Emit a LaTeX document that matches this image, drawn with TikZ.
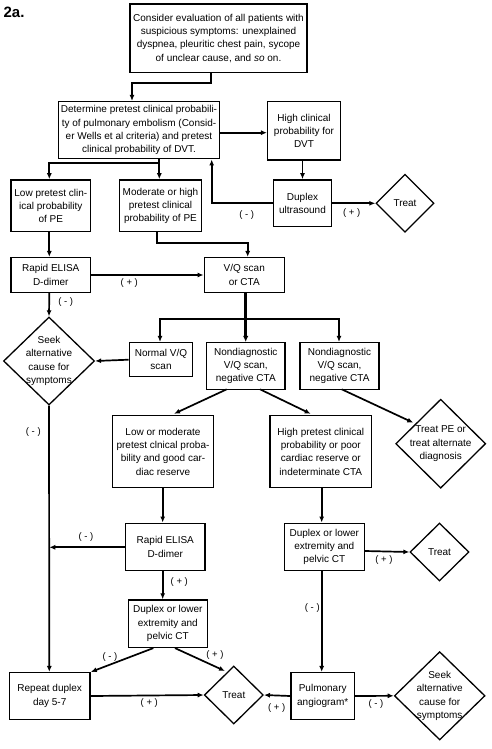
\documentclass[tikz,border=0pt]{standalone}
\usepackage{fontspec}
\setmainfont{Liberation Sans}
\usetikzlibrary{arrows.meta,shapes.geometric}
\newcommand\fs{\fontsize{10}{13.3}\selectfont}
\newcommand\lfs{\fontsize{9.5}{11}\selectfont}
\begin{document}
\begin{tikzpicture}[x=1pt,y=-1pt,
  pbox/.style={draw, line width=1.5pt, inner sep=1pt, align=center, font=\fs},
  pdiam/.style={draw, shape=diamond, line width=1.3pt, inner sep=0pt},
  dtext/.style={align=center, font=\fs, inner sep=0pt},
  arr/.style={line width=1.7pt, -{Latex[length=6pt,width=5pt]}},
  plain/.style={line width=1.7pt},
  lab/.style={font=\lfs, inner sep=0pt}]
\useasboundingbox (0,0) rectangle (492,749);
\fill[white] (0,0) rectangle (492,749);

\node[font=\fontsize{15}{16}\selectfont\bfseries, inner sep=0pt] (title) at (14,12) {2a.};

% boxes
\node[pbox, minimum width=177, minimum height=68.7] (top) at (218.5,38.3)
  {Consider evaluation of all patients with\\suspicious symptoms: unexplained\\dyspnea, pleuritic chest pain, sycope\\of unclear cause, and \textit{so} on.};
\node[pbox, minimum width=160.6, minimum height=57] (det) at (139,130.2)
  {Determine pretest clinical probabili-\\ty of pulmonary embolism (Consid-\\er Wells et al criteria) and pretest\\clinical probability of DVT.};
\node[pbox, minimum width=72.6, minimum height=58.3] (high) at (304,130.8)
  {High clinical\\probability for\\DVT};
\node[pbox, minimum width=58.4, minimum height=46.7] (dus) at (302.5,203.3)
  {Duplex\\ultrasound};
\node[pdiam, minimum width=58, minimum height=58] (treat1) at (405,203.3) {};
\node[dtext] (treat1t) at (treat1) {Treat};
\node[pbox, minimum width=79.7, minimum height=51.7] (low) at (50.8,205.8)
  {Low pretest clin-\\ical probability\\of PE};
\node[pbox, minimum width=82.4, minimum height=51.7] (mod) at (160.5,205.8)
  {Moderate or high\\pretest clinical\\probability of PE};
\node[pbox, minimum width=79.7, minimum height=34.6] (elisa1) at (50.8,275)
  {Rapid ELISA\\D-dimer};
\node[pbox, minimum width=80, minimum height=34.6] (vq) at (244.3,275)
  {V/Q scan\\or CTA};
\node[pdiam, minimum width=91, minimum height=88] (seek1) at (49,361) {};
\node[dtext] (seek1t) at (seek1) {Seek\\alternative\\cause for\\symptoms};
\node[pbox, minimum width=63.4, minimum height=34] (normal) at (161,359.7)
  {Normal V/Q\\scan};
\node[pbox, minimum width=78.3, minimum height=46.6] (nd1) at (245.8,366)
  {Nondiagnostic\\V/Q scan,\\negative CTA};
\node[pbox, minimum width=79, minimum height=46.6] (nd2) at (339.5,366)
  {Nondiagnostic\\V/Q scan,\\negative CTA};
\node[pbox, minimum width=100.6, minimum height=71.6] (lowmod) at (163,451.5)
  {Low or moderate\\pretest clnical proba-\\bility and good car-\\diac reserve};
\node[pbox, minimum width=101.7, minimum height=71.6] (highpre) at (320.8,451.5)
  {High pretest clinical\\probability or poor\\cardiac reserve or\\indeterminate CTA};
\node[pdiam, minimum width=90, minimum height=89] (treatpe) at (440.7,443.7) {};
\node[dtext] (treatpet) at (treatpe) {Treat PE or\\treat alternate\\diagnosis};
\node[pbox, minimum width=79.3, minimum height=47.4] (elisa2) at (165.3,547)
  {Rapid ELISA\\D-dimer};
\node[pbox, minimum width=80, minimum height=47.4] (dup2) at (324.3,547)
  {Duplex or lower\\extremity and\\pelvic CT};
\node[pdiam, minimum width=59, minimum height=58] (treat2) at (439.5,552) {};
\node[dtext] (treat2t) at (treat2) {Treat};
\node[pbox, minimum width=79, minimum height=47.3] (dup3) at (167.8,623.7)
  {Duplex or lower\\extremity and\\pelvic CT};
\node[pbox, minimum width=80.7, minimum height=46.6] (rep) at (49.7,696)
  {Repeat duplex\\day 5-7};
\node[pdiam, minimum width=59, minimum height=58] (treat3) at (233.8,695) {};
\node[dtext] (treat3t) at (treat3) {Treat};
\node[pbox, minimum width=63.3, minimum height=46.6] (pulm) at (322.7,696)
  {Pulmonary\\angiogram*};
\node[pdiam, minimum width=90.7, minimum height=88.3] (seek2) at (439.7,695.8) {};
\node[dtext] (seek2t) at (seek2) {Seek\\alternative\\cause for\\symptoms};

% helper coordinates
\coordinate (c1) at (211,83);
\coordinate (c2) at (132,83);
\coordinate (lx) at (49.3,0);
\coordinate (j1) at (159.3,163.3);
\coordinate (j2) at (156.7,243.3);
\coordinate (j3) at (247.7,243.3);
\coordinate (j4) at (245.7,319.3);
\coordinate (j5) at (160,319.3);
\coordinate (j6) at (339,319.3);

% connectors
\draw[arr] (top.south -| c1) |- (c2) -- (det.north -| c2);
\draw[arr] (det.east |- 0,132.7) -- (high.west |- 0,132.7);
\draw[arr] (high.south -| dus) -- (dus.north);
\draw[arr] (dus.west) -| (det.south -| 211.7,0);
\node[lab] (lm1) at (246.7,215) {( - )};
\draw[arr] (dus.east) -- (treat1.west);
\node[lab] (lp1) at (351.7,213) {( + )};
\draw[arr] (det.south -| j1) -- (mod.north -| j1);
\draw[arr] (j1) -| (low.north -| lx);
\draw[arr] (low.south -| lx) -- (elisa1.north -| lx);
\draw[arr] (mod.south -| j2) -- (j2) -- (j3) -- (vq.north -| j3);
\draw[arr] (elisa1.east) -- (vq.west);
\node[lab] (lp2) at (129.3,282.7) {( + )};
\draw[arr] (elisa1.south -| lx) -- (seek1.north);
\node[lab] (lm2) at (65.7,301.7) {( - )};
\draw[line width=2.6pt, -{Latex[length=6pt,width=5.5pt]}] (vq.south -| j4) -- (nd1.north -| j4);
\draw[arr] (j4) -- (j5) -- (normal.north -| j5);
\draw[arr] (j4) -- (j6) -- (nd2.north -| j6);
\draw[arr] (normal.west) -- (seek1.east);
\coordinate (n1a) at (226.7,389.3);
\coordinate (n1b) at (260,389.3);
\coordinate (n2a) at (341.7,389.3);
\draw[arr] (n1a) -- (174,413.8);
\draw[arr] (n1b) -- (310.7,413.8);
\draw[arr] (n2a) -- (413.3,422.7);
\draw[arr] (seek1.south) -- (rep.north -| lx);
\node[lab] (lm3) at (33.3,431.7) {( - )};
\draw[arr] (lowmod.south -| 162.7,0) -- (elisa2.north -| 162.7,0);
\draw[arr] (highpre.south -| 321.7,0) -- (dup2.north -| 321.7,0);
\draw[arr] (elisa2.west |- 0,547.3) -- (lx |- 0,547.3);
\node[lab] (lm4) at (86,536.7) {( - )};
\draw[arr] (elisa2.south -| 162.7,0) -- (dup3.north -| 162.7,0);
\node[lab] (lp3) at (179.3,581.7) {( + )};
\draw[arr] (dup2.east |- 0,551) -- (treat2.west);
\node[lab] (lp4) at (384,560) {( + )};
\draw[arr] (dup2.south -| 321.7,0) -- (pulm.north -| 321.7,0);
\node[lab] (lm5) at (312.3,608.3) {( - )};
\draw[arr] (dup3.south -| 153.3,0) -- (rep.north east);
\node[lab] (lm6) at (110,656.7) {( - )};
\draw[arr] (dup3.south -| 175,0) -- (225,671);
\node[lab] (lp5) at (215,655) {( + )};
\draw[arr] (rep.east) -- (treat3.west);
\node[lab] (lp6) at (149.3,703.3) {( + )};
\draw[arr] (pulm.west) -- (treat3.east);
\node[lab] (lp7) at (276.7,708.3) {( + )};
\draw[arr] (pulm.east) -- (seek2.west);
\node[lab] (lm7) at (376,704) {( - )};
\end{tikzpicture}
\end{document}
